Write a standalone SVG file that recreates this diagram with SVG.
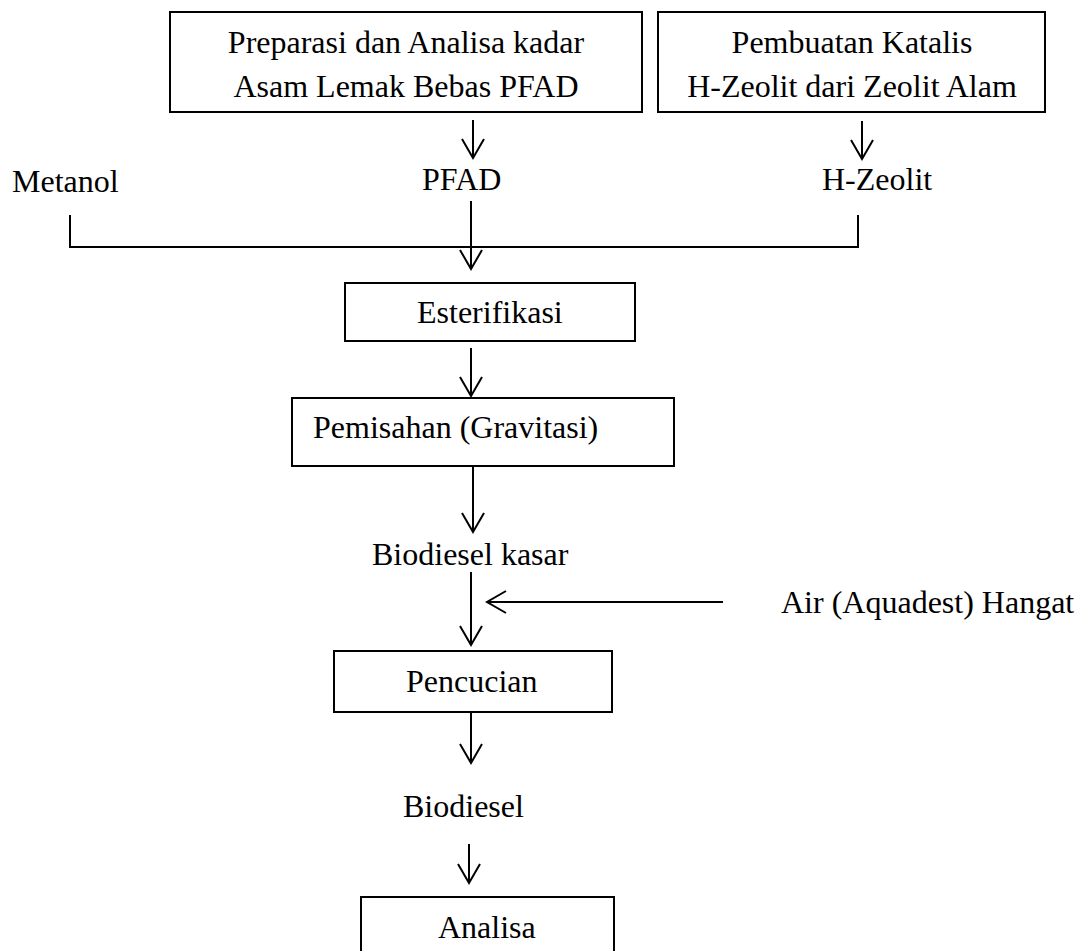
<svg xmlns="http://www.w3.org/2000/svg" width="1090" height="951" viewBox="0 0 1090 951">
<defs>
<style>
text{font-family:"Liberation Serif","Times New Roman",serif;font-size:32px;fill:#000}
.box{fill:#fff;stroke:#000;stroke-width:2}
.ln{fill:none;stroke:#000;stroke-width:2}
.c{text-anchor:middle}
</style>
<marker id="ah" markerUnits="userSpaceOnUse" markerWidth="24" markerHeight="26" viewBox="-21 -13 24 26" refX="0" refY="0" orient="auto">
<path d="M-19,-11 L0,0 L-19,11" fill="none" stroke="#000" stroke-width="2"/>
</marker>
</defs>
<rect width="1090" height="951" fill="#fff"/>
<g id="box1"><rect class="box" x="170" y="12" width="472" height="100"/>
<text class="c" x="406" y="53">Preparasi dan Analisa kadar</text>
<text class="c" x="406" y="97">Asam Lemak Bebas PFAD</text></g>
<g id="box2"><rect class="box" x="658" y="12" width="387" height="100"/>
<text class="c" x="852" y="53">Pembuatan Katalis</text>
<text class="c" x="852" y="97">H-Zeolit dari Zeolit Alam</text></g>
<g id="metanol"><text x="12" y="192">Metanol</text></g>
<g id="pfad"><text x="422" y="190">PFAD</text></g>
<g id="hzeolit"><text x="822" y="190">H-Zeolit</text></g>
<g id="esterifikasi"><rect class="box" x="345" y="283" width="290" height="58"/>
<text x="417" y="323">Esterifikasi</text></g>
<g id="pemisahan"><rect class="box" x="292" y="398" width="382" height="68"/>
<text x="313" y="438">Pemisahan (Gravitasi)</text></g>
<g id="biodiesel-kasar"><text x="372" y="565">Biodiesel kasar</text></g>
<g id="air"><text x="781" y="613">Air (Aquadest) Hangat</text></g>
<g id="pencucian"><rect class="box" x="334" y="651" width="278" height="61"/>
<text x="406" y="692">Pencucian</text></g>
<g id="biodiesel"><text x="403" y="817">Biodiesel</text></g>
<g id="analisa"><rect class="box" x="361" y="897" width="253" height="70"/>
<text x="438" y="938">Analisa</text></g>
<g id="connectors">
<line class="ln" x1="473" y1="120" x2="473" y2="158" marker-end="url(#ah)"/>
<line class="ln" x1="862" y1="121" x2="862" y2="159" marker-end="url(#ah)"/>
<polyline class="ln" points="70,215 70,247 858,247 858,215"/>
<line class="ln" x1="471" y1="201" x2="471" y2="269" marker-end="url(#ah)"/>
<line class="ln" x1="471" y1="348" x2="471" y2="396" marker-end="url(#ah)"/>
<line class="ln" x1="473" y1="466" x2="473" y2="532" marker-end="url(#ah)"/>
<line class="ln" x1="471" y1="572" x2="471" y2="645" marker-end="url(#ah)"/>
<line class="ln" x1="723" y1="602" x2="487" y2="602" marker-end="url(#ah)"/>
<line class="ln" x1="471" y1="712" x2="471" y2="763" marker-end="url(#ah)"/>
<line class="ln" x1="469" y1="844" x2="469" y2="883" marker-end="url(#ah)"/>
</g>
</svg>
